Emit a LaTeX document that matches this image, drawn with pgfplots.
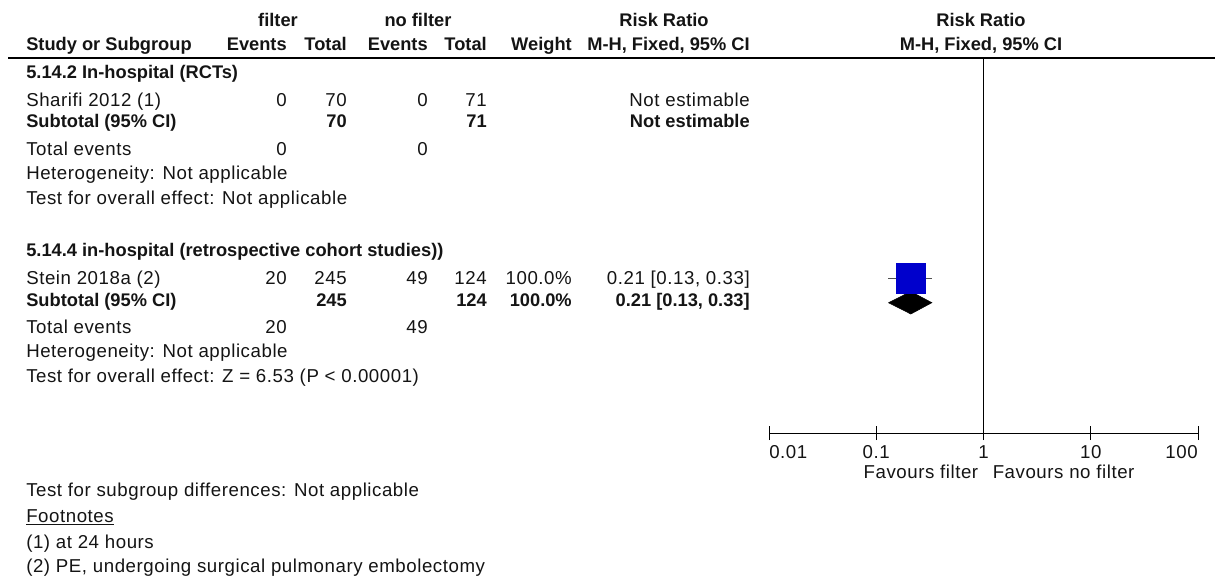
\documentclass[border=0pt]{standalone}
\usepackage{pgfplots}
\pgfplotsset{compat=1.18}
\usepackage{fontspec}
\setmainfont{Liberation Sans}[LetterSpace=3,BoldFeatures={LetterSpace=0}]
\definecolor{sqblue}{RGB}{0,0,204}
\definecolor{txt}{RGB}{20,20,20}
\definecolor{whisk}{RGB}{80,80,80}
\tikzset{
 rt/.style={font=\fontsize{14}{16}\selectfont, inner sep=0pt, text height=9.8pt, text depth=0pt, text=txt},
 bt/.style={font=\fontsize{13.7}{16}\selectfont\bfseries, inner sep=0pt, text height=9.7pt, text depth=0pt, text=txt},
}
\begin{document}
\begin{tikzpicture}
\useasboundingbox (0pt,0pt) rectangle (919.5pt,-432.75pt);
\begin{axis}[at={(576.75pt,-324.75pt)}, anchor=south west, scale only axis,
  width=321.75pt, height=280.5pt, xmode=log, xmin=0.01, xmax=100,
  ymin=-433, ymax=-59, axis x line*=bottom, axis y line=none,
  xtick={0.01,0.1,1,10,100}, xticklabel=\empty, xminorticks=false, minor xtick={},
  major tick length=10.5pt, tick align=center,
  every tick/.style={black, line width=0.75pt},
  axis line style={black, line width=0.75pt}, clip=false]
  % line of no effect
  \addplot[black, line width=0.75pt] coordinates {(1,-59) (1,-433)};
  % Stein 2018a
  \addplot[whisk, line width=0.75pt] coordinates {(0.13,-278.5) (0.33,-278.5)};
  \addplot[only marks, mark=square*, mark size=10.9pt, mark options={draw=sqblue, fill=sqblue, line width=0pt}] coordinates {(0.21,-278.5)};
  % subtotal diamond
  \addplot[fill=black, draw=black, line width=0.4pt] coordinates {(0.13,-302.7) (0.21,-291.5) (0.33,-302.7) (0.21,-314) (0.13,-302.7)};
  % tick labels
  \node[rt, anchor=west] at (axis cs:0.01,-452) {0.01};
  \node[rt] at (axis cs:0.1,-452) {0.1};
  \node[rt] at (axis cs:1,-452) {1};
  \node[rt] at (axis cs:10,-452) {10};
  \node[rt, anchor=east] at (axis cs:100,-452) {100};
  \node[rt, anchor=east] at (axis cs:0.898,-472) {Favours filter};
  \node[rt, anchor=west] at (axis cs:1.213,-472) {Favours no filter};
\end{axis}
\begin{scope}[x=0.75pt, y=-0.75pt]
  % header
  \node[bt] at (278,20) {filter};
  \node[bt] at (418,20) {no filter};
  \node[bt] at (664,20) {Risk Ratio};
  \node[bt] at (981,20) {Risk Ratio};
  \node[bt, anchor=west] at (26,44) {Study or Subgroup};
  \node[bt, anchor=east] at (287,44) {Events};
  \node[bt, anchor=east] at (347,44) {Total};
  \node[bt, anchor=east] at (428,44) {Events};
  \node[bt, anchor=east] at (487,44) {Total};
  \node[bt, anchor=east] at (572,44) {Weight};
  \node[bt, anchor=east] at (750,44) {M-H, Fixed, 95\% CI};
  \node[bt] at (981,44) {M-H, Fixed, 95\% CI};
  \draw[black, line width=1.5pt] (8,58.5) -- (1215,58.5);
  % group 1
  \node[bt, anchor=west] at (26,72) {5.14.2 In-hospital (RCTs)};
  \node[rt, anchor=west] at (26,100) {Sharifi 2012 (1)};
  \node[rt, anchor=east] at (287,100) {0};
  \node[rt, anchor=east] at (347,100) {70};
  \node[rt, anchor=east] at (428,100) {0};
  \node[rt, anchor=east] at (487,100) {71};
  \node[rt, anchor=east] at (750,100) {Not estimable};
  \node[bt, anchor=west] at (26,121) {Subtotal (95\% CI)};
  \node[bt, anchor=east] at (347,121) {70};
  \node[bt, anchor=east] at (487,121) {71};
  \node[bt, anchor=east] at (750,121) {Not estimable};
  \node[rt, anchor=west] at (26,149) {Total events};
  \node[rt, anchor=east] at (287,149) {0};
  \node[rt, anchor=east] at (428,149) {0};
  \node[rt, anchor=west] at (26,173) {Heterogeneity: Not applicable};
  \node[rt, anchor=west] at (26,198) {Test for overall effect: Not applicable};
  % group 2
  \node[bt, anchor=west] at (26,250) {5.14.4 in-hospital (retrospective cohort studies))};
  \node[rt, anchor=west] at (26,278) {Stein 2018a (2)};
  \node[rt, anchor=east] at (287,278) {20};
  \node[rt, anchor=east] at (347,278) {245};
  \node[rt, anchor=east] at (428,278) {49};
  \node[rt, anchor=east] at (487,278) {124};
  \node[rt, anchor=east] at (572,278) {100.0\%};
  \node[rt, anchor=east] at (750,278) {0.21 [0.13, 0.33]};
  \node[bt, anchor=west] at (26,300) {Subtotal (95\% CI)};
  \node[bt, anchor=east] at (347,300) {245};
  \node[bt, anchor=east] at (487,300) {124};
  \node[bt, anchor=east] at (572,300) {100.0\%};
  \node[bt, anchor=east] at (750,300) {0.21 [0.13, 0.33]};
  \node[rt, anchor=west] at (26,327) {Total events};
  \node[rt, anchor=east] at (287,327) {20};
  \node[rt, anchor=east] at (428,327) {49};
  \node[rt, anchor=west] at (26,351) {Heterogeneity: Not applicable};
  \node[rt, anchor=west] at (26,376) {Test for overall effect: Z = 6.53 (P < 0.00001)};
  % bottom
  \node[rt, anchor=west] at (26,490) {Test for subgroup differences: Not applicable};
  \node[rt, anchor=west] at (26,516) {\underline{Footnotes}};
  \node[rt, anchor=west] at (26,542) {(1) at 24 hours};
  \node[rt, anchor=west] at (26,566) {(2) PE, undergoing surgical pulmonary embolectomy};
\end{scope}
\end{tikzpicture}
\end{document}
